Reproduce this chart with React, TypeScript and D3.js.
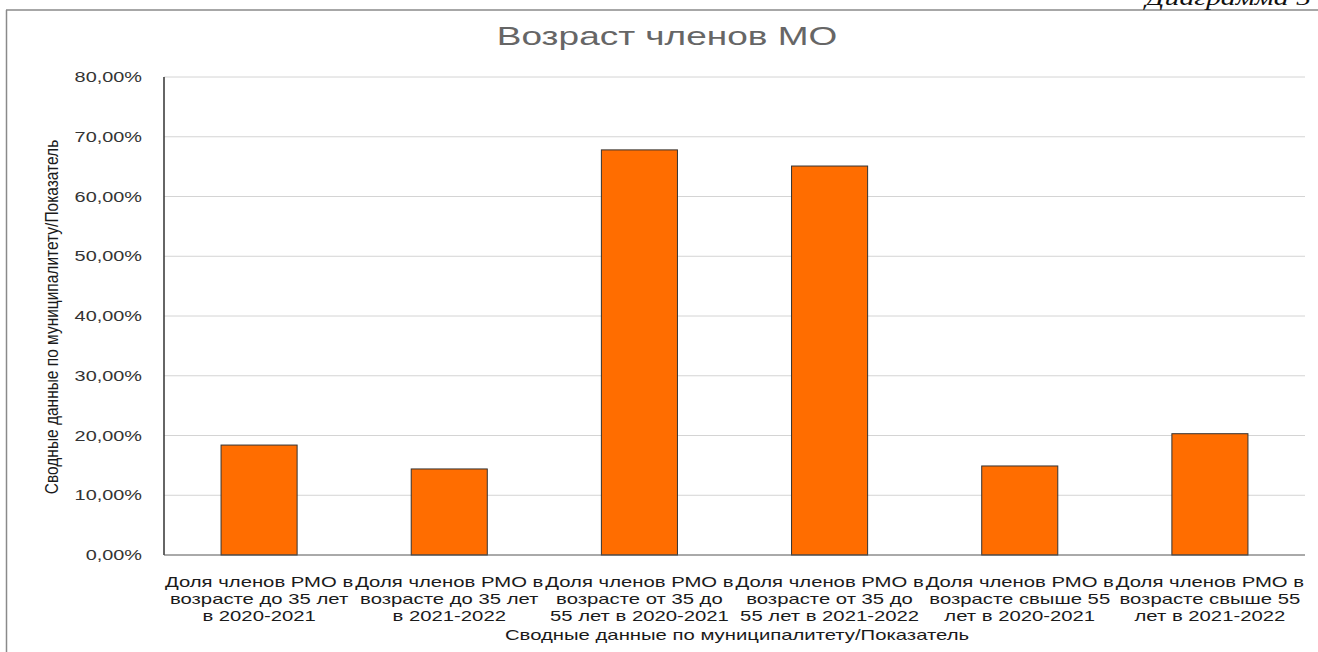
import React, { useEffect, useRef } from 'react';
import * as d3 from 'd3';

const categories = [
  'Доля членов РМО в\nвозрасте до 35 лет\nв 2020-2021',
  'Доля членов РМО в\nвозрасте до 35 лет\nв 2021-2022',
  'Доля членов РМО в\nвозрасте от 35 до\n55 лет в 2020-2021',
  'Доля членов РМО в\nвозрасте от 35 до\n55 лет в 2021-2022',
  'Доля членов РМО в\nвозрасте свыше 55\nлет в 2020-2021',
  'Доля членов РМО в\nвозрасте свыше 55\nлет в 2021-2022',
];
const values = [18.4, 14.4, 67.8, 65.1, 14.9, 20.3];
const yTicks = [0, 10, 20, 30, 40, 50, 60, 70, 80];

const title = 'Возраст членов МО';
const axisTitle = 'Сводные данные по муниципалитету/Показатель';
const caption = 'Диаграмма 5';

const W = 1318;
const H = 652;
// the source image is stretched sideways, so text is widened too
const SX = 1.42;
const FONT = '"Liberation Sans", Arial, sans-serif';

const App: React.FC = () => {
  const svgRef = useRef<SVGSVGElement>(null);

  useEffect(() => {
    const svg = d3.select(svgRef.current);
    svg.selectAll('*').remove();

    const plot = { left: 164, right: 1305, top: 77, bottom: 555 };

    const x = d3.scaleBand<string>()
      .domain(categories)
      .range([plot.left, plot.right])
      .paddingInner(0.6)
      .paddingOuter(0.3);
    const y = d3.scaleLinear().domain([0, 80]).range([plot.bottom, plot.top]);

    // frame
    svg.append('line').attr('x1', 6).attr('x2', W).attr('y1', 10).attr('y2', 10)
      .attr('stroke', '#8a8a8a').attr('stroke-width', 1.5);
    svg.append('line').attr('x1', 6.5).attr('x2', 6.5).attr('y1', 10).attr('y2', H)
      .attr('stroke', '#8a8a8a').attr('stroke-width', 1.5);

    svg.append('text')
      .attr('transform', `translate(1311,5) scale(${SX},1)`)
      .attr('text-anchor', 'end')
      .attr('font-family', '"Liberation Serif", serif')
      .attr('font-style', 'italic')
      .attr('font-size', 21)
      .attr('fill', '#111')
      .text(caption);

    // title
    svg.append('text')
      .attr('transform', `translate(667,45) scale(1.45,1)`)
      .attr('text-anchor', 'middle')
      .attr('font-family', FONT)
      .attr('font-size', 25.5)
      .attr('fill', '#666')
      .text(title);

    // grid
    svg.append('g').selectAll('line')
      .data(yTicks.filter(t => t > 0))
      .join('line')
      .attr('x1', plot.left).attr('x2', plot.right)
      .attr('y1', d => y(d)).attr('y2', d => y(d))
      .attr('stroke', '#d4d4d4').attr('stroke-width', 1);

    // tick labels
    svg.append('g').selectAll('text')
      .data(yTicks)
      .join('text')
      .attr('transform', d => `translate(142,${y(d) + 5}) scale(${SX},1)`)
      .attr('text-anchor', 'end')
      .attr('font-family', FONT)
      .attr('font-size', 14)
      .attr('fill', '#333')
      .text(d => d.toFixed(2).replace('.', ',') + '%');

    // bars
    svg.append('g').selectAll('rect')
      .data(values)
      .join('rect')
      .attr('x', (d, i) => x(categories[i])!)
      .attr('width', x.bandwidth())
      .attr('y', d => y(d))
      .attr('height', d => y(0) - y(d))
      .attr('fill', '#ff6d00')
      .attr('stroke', '#333')
      .attr('stroke-width', 1);

    // axes
    svg.append('line').attr('x1', plot.left).attr('x2', plot.left).attr('y1', plot.top).attr('y2', plot.bottom)
      .attr('stroke', '#333').attr('stroke-width', 1.5);
    svg.append('line').attr('x1', plot.left).attr('x2', plot.right).attr('y1', plot.bottom).attr('y2', plot.bottom)
      .attr('stroke', '#555').attr('stroke-width', 1);

    // category labels
    const labels = svg.append('g').selectAll('text')
      .data(categories)
      .join('text')
      .attr('transform', d => `translate(${x(d)! + x.bandwidth() / 2},587) scale(1.45,1)`)
      .attr('text-anchor', 'middle')
      .attr('font-family', FONT)
      .attr('font-size', 14)
      .attr('fill', '#1a1a1a');
    labels.selectAll('tspan')
      .data(d => d.split('\n'))
      .join('tspan')
      .attr('x', 0)
      .attr('y', (d, i) => i * 17)
      .text(d => d);

    // axis titles
    svg.append('text')
      .attr('transform', `translate(737,640) scale(1.45,1)`)
      .attr('text-anchor', 'middle')
      .attr('font-family', FONT)
      .attr('font-size', 14)
      .attr('fill', '#1a1a1a')
      .text(axisTitle);

    svg.append('text')
      .attr('transform', `translate(58,317) scale(1.2,1) rotate(-90)`)
      .attr('text-anchor', 'middle')
      .attr('font-family', FONT)
      .attr('font-size', 15.5)
      .attr('fill', '#1a1a1a')
      .text(axisTitle);
  }, []);

  return (
    <svg
      ref={svgRef}
      width={W}
      height={H}
      style={{ position: 'absolute', left: 0, top: 0, background: '#fff' }}
    />
  );
};

export default App;
